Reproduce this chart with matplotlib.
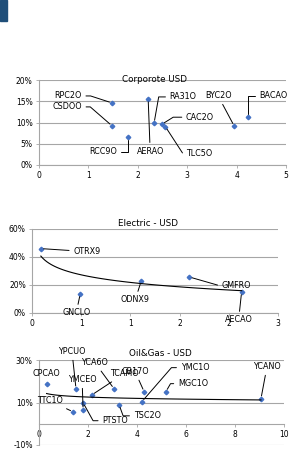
import matplotlib
matplotlib.use("Agg")
import matplotlib.pyplot as plt
from matplotlib.patches import Rectangle
from matplotlib.ticker import FuncFormatter
import numpy as np

# Corporate USD
corp_names = ["RPC2O", "CSDOO", "RCC9O", "AERAO", "RA31O", "CAC2O", "TLC5O", "BYC2O", "BACAO"]
corp_x = [1.48, 1.48, 1.80, 2.21, 2.33, 2.49, 2.56, 3.95, 4.24]
corp_y = [14.6, 9.2, 6.6, 15.5, 9.9, 9.6, 9.0, 9.2, 11.3]

# Electric USD
elec_names = ["OTRX9", "GNCLO", "ODNX9", "GMFRO", "AECAO"]
elec_x = [0.09, 0.49, 1.11, 1.60, 2.13]
elec_y = [46.0, 13.6, 22.9, 25.7, 15.0]
elec_xticklabels = ["0", "1", "1", "2", "2", "3"]

# Oil & Gas USD
oil_names = ["CPCAO", "YPCUO", "YCA6O", "TCAMO", "CB17O", "YMCEO", "PTSTO",
             "TTC1O", "TSC2O", "YMC1O", "MGC1O", "YCANO"]
oil_x = [0.31, 1.51, 3.06, 2.16, 4.29, 1.80, 1.80, 1.39, 3.27, 4.20, 5.18, 9.06]
oil_y = [18.7, 16.5, 16.5, 13.6, 15.1, 6.6, 9.9, 5.6, 8.9, 10.4, 15.1, 11.8]

# label offsets (pixels) from each point, and the angle of the leader's last leg
# (None = straight leader)
corp_off = [(-44, 7), (-45, 19), (-25, -15), (2, -52), (29, 26), (38, 7), (34, -27), (-16, 30), (25, 21)]
corp_leg = [-18, -41, 90, None, 80, 32, -57, None, 90]
elec_off = [(46, -3), (-4, -19), (-6, -19), (47, -8), (-3, -28)]
elec_leg = [None, None, None, -16, None]
oil_off = [(0, 11), (-4, 37), (-19, 26), (32, 21), (-9, 20), (-1, 30), (32, -18),
           (-23, 11), (28, -11), (53, 34), (27, 8), (6, 32)]
oil_leg = [None, None, None, None, None, None, -61, None, -70, 49, 60, None]

BLUE = "#4472C4"
GRID = "#A6A6A6"
FS = 5.8

plt.rcParams["font.family"] = "DejaVu Sans"

fig = plt.figure(figsize=(2.92, 4.76), dpi=100)
fig.patches.append(Rectangle((0, 1 - 21 / 476), 7 / 292, 21 / 476,
                             transform=fig.transFigure, color="#1F4E79"))

W, H = 292.0, 476.0


def make_ax(left, right, top, bottom):
    return fig.add_axes([left / W, 1 - bottom / H, (right - left) / W, (bottom - top) / H])


def style(ax):
    for s in ["top", "right"]:
        ax.spines[s].set_visible(False)
    for s in ["left", "bottom"]:
        ax.spines[s].set_color(GRID)
        ax.spines[s].set_linewidth(0.8)
    ax.yaxis.grid(True, color=GRID, linewidth=0.8)
    ax.set_axisbelow(True)
    ax.tick_params(length=2.5, width=0.6, color=GRID, labelsize=FS - 0.3, pad=2)
    ax.yaxis.set_major_formatter(FuncFormatter(lambda v, p: f"{v:.0f}%"))


def label_points(ax, names, xs, ys, offs, legs):
    for n, x, y, (dx, dy), leg in zip(names, xs, ys, offs, legs):
        if n == "CPCAO":
            arrow = None
        else:
            if leg is None:
                cs = "arc3"
            else:
                cs = f"angle,angleA=0,angleB={leg},rad=0"
            arrow = dict(arrowstyle="-", color="black", lw=0.7, shrinkA=1,
                         shrinkB=2, connectionstyle=cs)
        ax.annotate(n, (x, y), xytext=(dx, dy), textcoords="offset pixels",
                    ha="center", va="center", fontsize=FS, arrowprops=arrow)


# ---- Chart 1
ax1 = make_ax(39, 286, 80, 165)
style(ax1)
ax1.plot(corp_x, corp_y, "D", color=BLUE, markersize=2.3, linestyle="none")
ax1.set_xlim(0, 5)
ax1.set_ylim(0, 20)
ax1.set_yticks([0, 5, 10, 15, 20])
ax1.set_xticks(range(6))
label_points(ax1, corp_names, corp_x, corp_y, corp_off, corp_leg)
ax1.text(0.466, 1.0, "Corporote USD", transform=ax1.transAxes, ha="center",
         va="center", fontsize=6.3)

# ---- Chart 2
ax2 = make_ax(32, 278, 229, 313)
style(ax2)
ax2.plot(elec_x, elec_y, "D", color=BLUE, markersize=2.3, linestyle="none")
# logarithmic trendline
b, a = np.polyfit(np.log(elec_x), elec_y, 1)
tx = np.linspace(min(elec_x), max(elec_x), 100)
ax2.plot(tx, a + b * np.log(tx), color="black", lw=0.8)
ax2.set_xlim(0, 2.5)
ax2.set_ylim(0, 60)
ax2.set_yticks([0, 20, 40, 60])
ax2.set_xticks(np.arange(0, 2.51, 0.5))
ax2.set_xticklabels(elec_xticklabels)
label_points(ax2, elec_names, elec_x, elec_y, elec_off, elec_leg)
ax2.text(0.47, 1.07, "Electric - USD", transform=ax2.transAxes, ha="center",
         va="center", fontsize=6.3)

# ---- Chart 3
ax3 = make_ax(39, 284, 360, 445)
style(ax3)
ax3.spines["bottom"].set_position(("data", 0))
ax3.plot(oil_x, oil_y, "D", color=BLUE, markersize=2.3, linestyle="none")
b, a = np.polyfit(np.log(oil_x), oil_y, 1)
tx = np.linspace(min(oil_x), max(oil_x), 100)
ax3.plot(tx, a + b * np.log(tx), color="black", lw=0.8)
ax3.set_xlim(0, 10)
ax3.set_ylim(-10, 30)
ax3.set_yticks([-10, 10, 30])
ax3.set_xticks(range(0, 11, 2))
label_points(ax3, oil_names, oil_x, oil_y, oil_off, oil_leg)
ax3.text(0.494, 1.08, "Oil&Gas - USD", transform=ax3.transAxes, ha="center",
         va="center", fontsize=6.3)

fig.savefig("out.png", dpi=100)
